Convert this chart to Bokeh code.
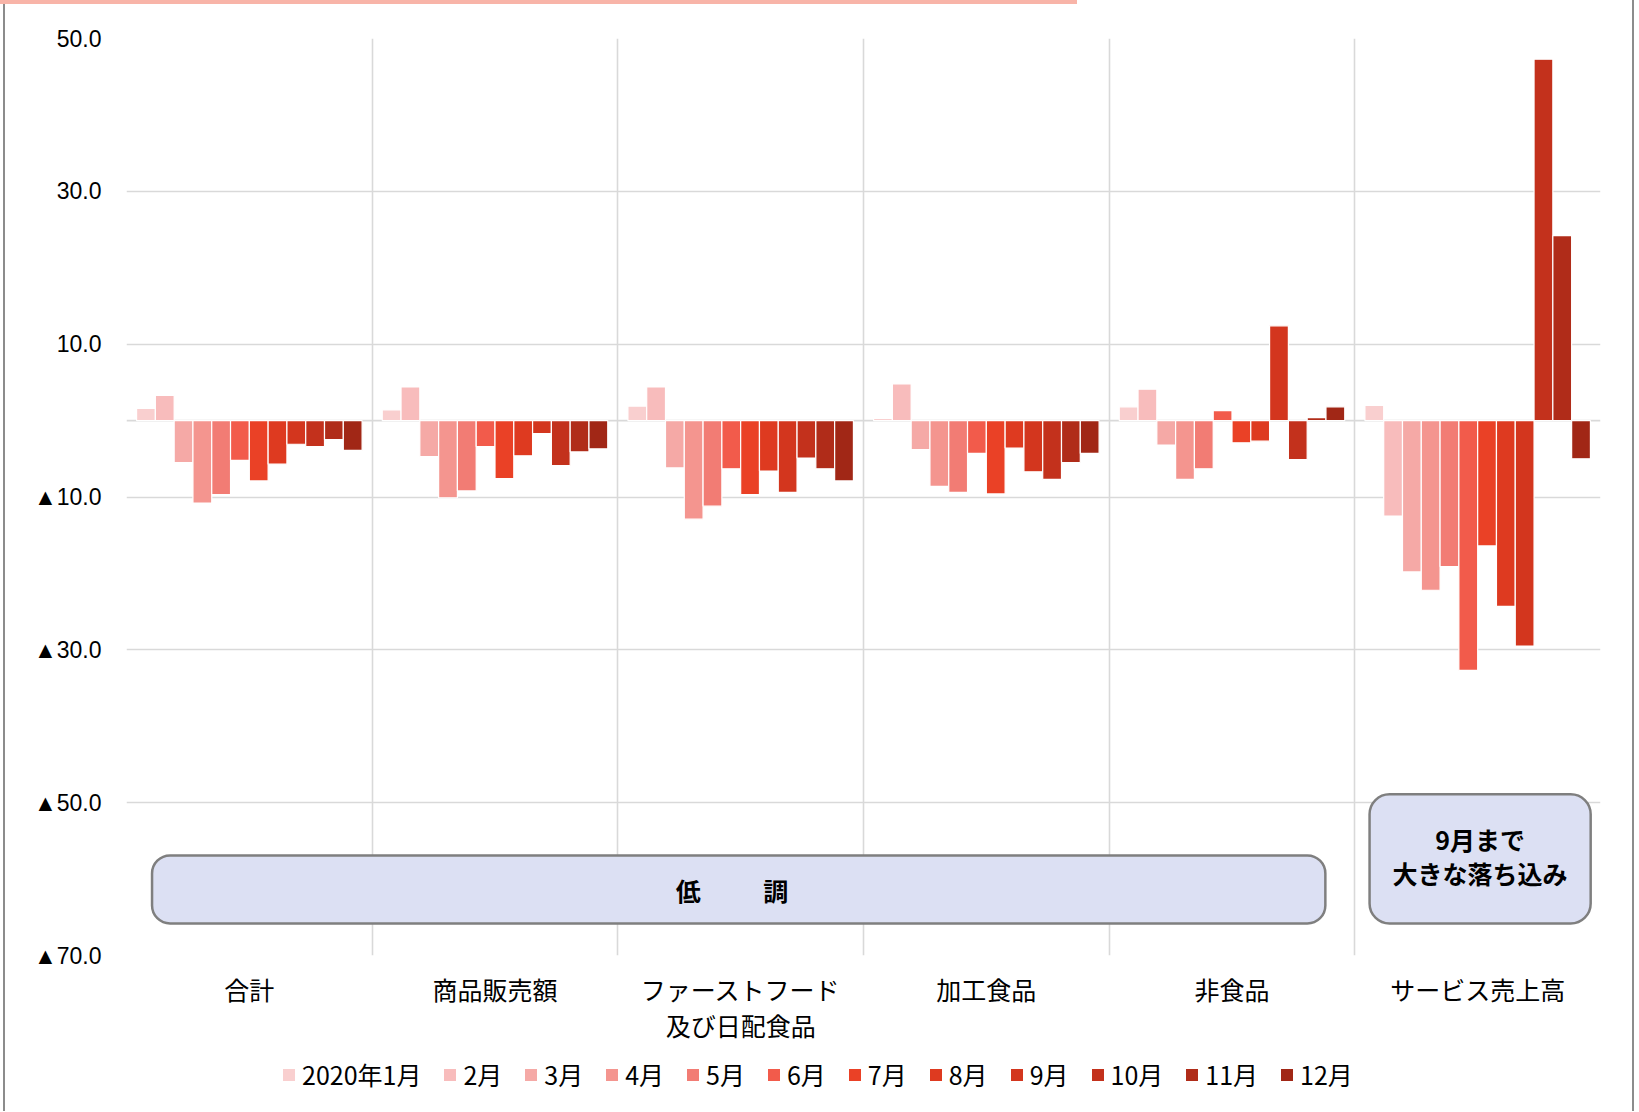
from bokeh.plotting import figure
from bokeh.layouts import column
from bokeh.models import (Range1d, FixedTicker, Span, BoxAnnotation, Label,
                          Legend, LegendItem)
from bokeh.embed import file_html
from bokeh.resources import INLINE

categories = ["合計", "商品販売額", "ファーストフード\n及び日配食品", "加工食品", "非食品", "サービス売上高"]
months = ["2020年1月", "2月", "3月", "4月", "5月", "6月", "7月", "8月", "9月", "10月", "11月", "12月"]

total = [1.6, 3.3, -5.5, -10.8, -9.7, -5.2, -7.9, -5.7, -3.1, -3.4, -2.5, -3.9]
merch = [1.4, 4.4, -4.7, -10.1, -9.2, -3.4, -7.6, -4.6, -1.7, -5.9, -4.1, -3.7]
fastfood = [1.9, 4.4, -6.2, -12.9, -11.2, -6.3, -9.7, -6.6, -9.4, -4.9, -6.3, -7.9]
processed = [0.3, 4.8, -3.8, -8.6, -9.4, -4.3, -9.6, -3.6, -6.7, -7.7, -5.5, -4.3]
nonfood = [1.8, 4.1, -3.2, -7.7, -6.3, 1.3, -2.9, -2.7, 12.4, -5.1, 0.4, 1.8]
service = [2.0, -12.5, -19.8, -22.2, -19.1, -32.7, -16.4, -24.3, -29.5, 47.3, 24.2, -5.0]

colors = ["#f9cfcf", "#f8bcbc", "#f5a9a6", "#f4958f", "#f27c74", "#f25b4b",
          "#ea4126", "#de3a20", "#d3361e", "#c3311c", "#b02c19", "#a12716"]

y_ticks = [50, 30, 10, -10, -30, -50, -70]
y_tick_labels = ["50.0", "30.0", "10.0", "▲10.0", "▲30.0", "▲50.0", "▲70.0"]

series = [total, merch, fastfood, processed, nonfood, service]

side_lines = {
    "background-color": "white",
    "background-image": ("linear-gradient(#8c8c8c, #8c8c8c), "
                         "linear-gradient(#8c8c8c, #8c8c8c)"),
    "background-size": "2px 100%, 2px 100%",
    "background-position": "3px 0px, 1632px 0px",
    "background-repeat": "no-repeat",
}
top_styles = {
    "background-color": "white",
    "background-image": ("linear-gradient(#f8b4a8, #f8b4a8), "
                         "linear-gradient(#8c8c8c, #8c8c8c), "
                         "linear-gradient(#8c8c8c, #8c8c8c)"),
    "background-size": "1077px 4px, 2px 100%, 2px 100%",
    "background-position": "0px 0px, 3px 0px, 1632px 0px",
    "background-repeat": "no-repeat",
}

p_main = figure(frame_width=1474, frame_height=917, output_backend="svg",
                toolbar_location=None, x_range=Range1d(0, 6), y_range=Range1d(-70, 50),
                min_border_left=126, min_border_right=38, min_border_top=38,
                min_border_bottom=90)
p_main.outline_line_color = None
p_main.background_fill_color = "white"
p_main.border_fill_alpha = 0
p_main.styles = top_styles

# grids
p_main.xgrid.ticker = FixedTicker(ticks=list(range(7)))
p_main.ygrid.ticker = FixedTicker(ticks=y_ticks)
for g in (p_main.xgrid, p_main.ygrid):
    g.grid_line_color = "#d9d9d9"
    g.grid_line_width = 1.6

zero = Span(location=0, dimension="width", line_color="#d9d9d9", line_width=1.8,
            level="underlay")
p_main.add_layout(zero)

# axes
p_main.yaxis.ticker = FixedTicker(ticks=y_ticks)
p_main.yaxis.major_label_overrides = {t: l for t, l in zip(y_ticks, y_tick_labels)}
p_main.yaxis.axis_line_color = None
p_main.yaxis.major_tick_line_color = None
p_main.yaxis.minor_tick_line_color = None
p_main.yaxis.major_tick_out = 0
p_main.yaxis.major_label_standoff = 25
p_main.yaxis.major_label_text_font = "Liberation Sans"
p_main.yaxis.major_label_text_font_size = "23px"
p_main.yaxis.major_label_text_color = "black"

x_ticks = [i + 0.5 for i in range(len(categories))]
p_main.xaxis.ticker = FixedTicker(ticks=x_ticks)
p_main.xaxis.major_label_overrides = {t: c for t, c in zip(x_ticks, categories)}
p_main.xaxis.axis_line_color = None
p_main.xaxis.major_tick_line_color = None
p_main.xaxis.minor_tick_line_color = None
p_main.xaxis.major_tick_out = 0
p_main.xaxis.major_label_standoff = 15
p_main.xaxis.major_label_text_font = "Noto Sans CJK JP"
p_main.xaxis.major_label_text_font_size = "25px"
p_main.xaxis.major_label_text_line_height = 1.0
p_main.xaxis.major_label_text_color = "black"

# bars
slot = 0.0765
for i, c in enumerate(colors):
    xs = [g + 0.5 + (i - 5.5) * slot for g in range(len(categories))]
    tops = [s[i] for s in series]
    p_main.vbar(x=xs, top=tops, bottom=0, width=slot, fill_color=c,
                line_color="white", line_width=1.2)

# annotation boxes
box1 = BoxAnnotation(left=0.104, right=4.88, top=-56.9, bottom=-65.8,
                     fill_color="#dce0f3", fill_alpha=1, line_color="#7f7f7f",
                     line_alpha=1, line_width=2.5, border_radius=18)
box2 = BoxAnnotation(left=5.06, right=5.96, top=-48.9, bottom=-65.8,
                     fill_color="#dce0f3", fill_alpha=1, line_color="#7f7f7f",
                     line_alpha=1, line_width=2.5, border_radius=20)
p_main.add_layout(box1)
p_main.add_layout(box2)

for txt, x, y in [("低　　\u2002調", 2.465, -61.4), ("9月まで", 5.51, -54.7),
                  ("大きな落ち込み", 5.51, -59.2)]:
    p_main.add_layout(Label(x=x, y=y, text=txt, text_align="center",
                            text_baseline="middle", text_font="Noto Sans CJK JP",
                            text_font_size="25px", text_font_style="bold",
                            text_color="black"))

# legend strip
p_leg = figure(width=1638, height=66, output_backend="svg", toolbar_location=None,
               x_range=Range1d(0, 1), y_range=Range1d(0, 1),
               x_axis_location=None, y_axis_location=None, min_border=0)
p_leg.grid.visible = False
p_leg.outline_line_color = None
p_leg.background_fill_alpha = 0
p_leg.border_fill_alpha = 0
p_leg.styles = side_lines

items = []
for m, c in zip(months, colors):
    # zero-height key mark: only its colour is used by the legend
    r = p_leg.vbar(x=[0.5], top=[0], bottom=[0], width=0.01, fill_color=c,
                   line_color=None)
    items.append(LegendItem(label=m, renderers=[r]))

legend = Legend(items=items, orientation="horizontal", location=(155, 19),
                padding=0, margin=0, border_line_color=None,
                background_fill_alpha=0, glyph_width=15, glyph_height=15,
                label_standoff=6, spacing=21, label_text_font="Noto Sans CJK JP",
                label_text_font_size="25px", label_text_color="black")
p_leg.add_layout(legend, "center")

p = column(p_main, p_leg, spacing=0)
open("out.html", "w").write(file_html(p, INLINE))
